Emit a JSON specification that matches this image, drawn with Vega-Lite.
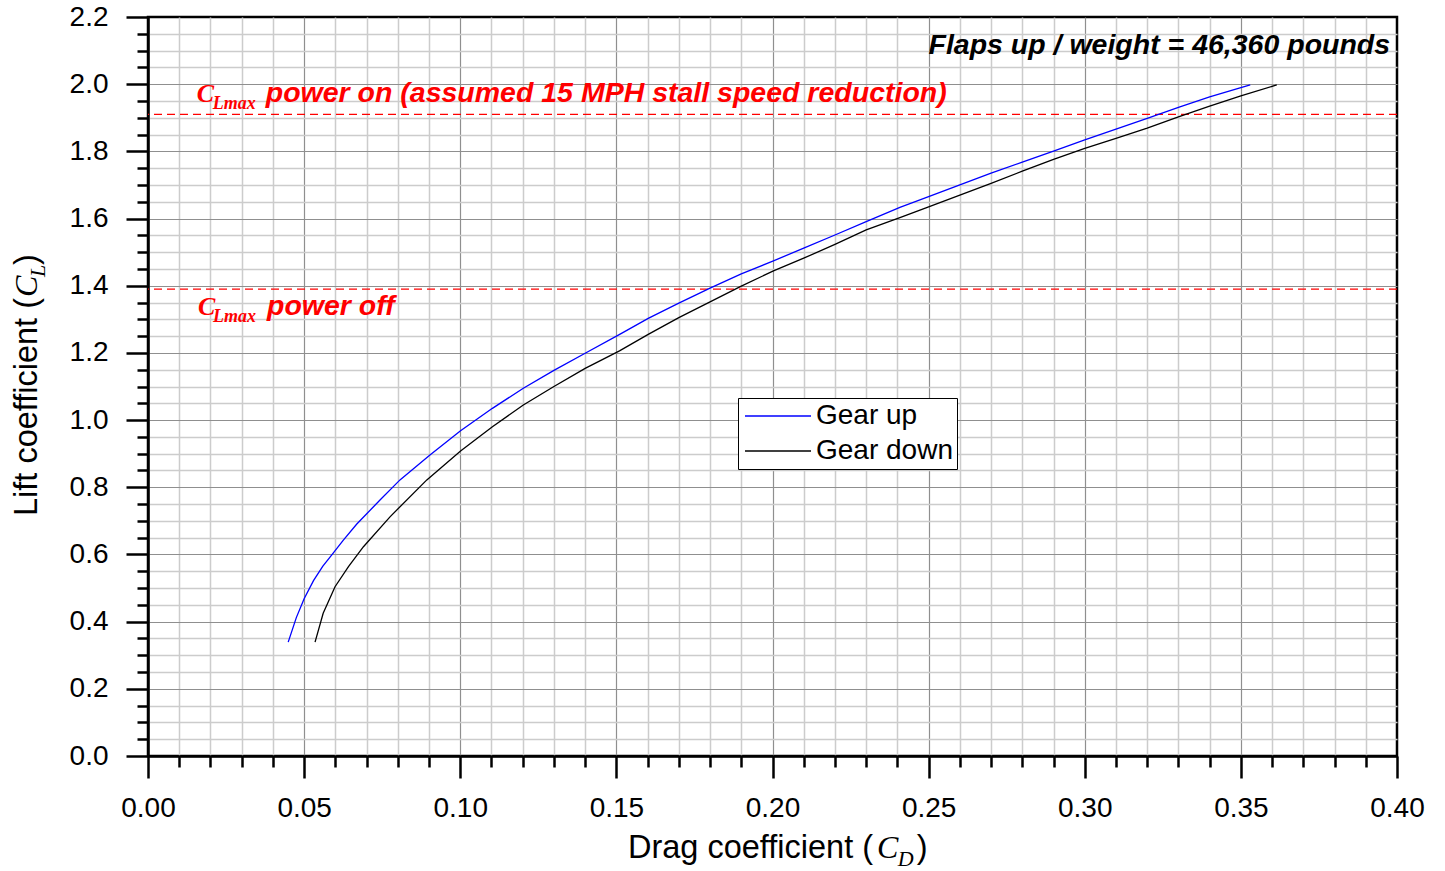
{
  "$schema": "https://vega.github.io/schema/vega-lite/v6.json",
  "width": 1249,
  "height": 739,
  "autosize": {"type": "none"},
  "padding": {"left": 148, "top": 17, "right": 48, "bottom": 115},
  "background": "white",
  "config": {"view": {"stroke": "black", "strokeWidth": 2.5}, "font": "Liberation Sans"},
  "resolve": {"axis": {"x": "independent", "y": "independent"}},
  "layer": [
    {
      "data": {"values": [{"name": "power on", "cl": 1.91}, {"name": "power off", "cl": 1.39}]},
      "mark": {"type": "rule", "color": "#ff0000", "strokeWidth": 1.2, "strokeDash": [8, 5]},
      "encoding": {
        "y": {"field": "cl", "type": "quantitative", "scale": {"domain": [0, 2.2], "nice": false, "zero": false}, "axis": null}
      }
    },
    {
      "data": {"values": [
        {"series": "Gear up", "cd": 0.0449, "cl": 0.339},
        {"series": "Gear up", "cd": 0.0475, "cl": 0.412},
        {"series": "Gear up", "cd": 0.0500, "cl": 0.468},
        {"series": "Gear up", "cd": 0.0530, "cl": 0.522},
        {"series": "Gear up", "cd": 0.0560, "cl": 0.565},
        {"series": "Gear up", "cd": 0.0588, "cl": 0.598},
        {"series": "Gear up", "cd": 0.0625, "cl": 0.642},
        {"series": "Gear up", "cd": 0.0668, "cl": 0.690},
        {"series": "Gear up", "cd": 0.0743, "cl": 0.762},
        {"series": "Gear up", "cd": 0.0807, "cl": 0.822},
        {"series": "Gear up", "cd": 0.0903, "cl": 0.896},
        {"series": "Gear up", "cd": 0.1001, "cl": 0.968},
        {"series": "Gear up", "cd": 0.1103, "cl": 1.035},
        {"series": "Gear up", "cd": 0.1202, "cl": 1.095},
        {"series": "Gear up", "cd": 0.1300, "cl": 1.148},
        {"series": "Gear up", "cd": 0.1400, "cl": 1.199},
        {"series": "Gear up", "cd": 0.1512, "cl": 1.256},
        {"series": "Gear up", "cd": 0.1602, "cl": 1.303},
        {"series": "Gear up", "cd": 0.1700, "cl": 1.348},
        {"series": "Gear up", "cd": 0.1800, "cl": 1.393},
        {"series": "Gear up", "cd": 0.1900, "cl": 1.435},
        {"series": "Gear up", "cd": 0.2003, "cl": 1.474},
        {"series": "Gear up", "cd": 0.2100, "cl": 1.512},
        {"series": "Gear up", "cd": 0.2200, "cl": 1.551},
        {"series": "Gear up", "cd": 0.2300, "cl": 1.591},
        {"series": "Gear up", "cd": 0.2408, "cl": 1.633},
        {"series": "Gear up", "cd": 0.2500, "cl": 1.665},
        {"series": "Gear up", "cd": 0.2600, "cl": 1.700},
        {"series": "Gear up", "cd": 0.2700, "cl": 1.735},
        {"series": "Gear up", "cd": 0.2800, "cl": 1.768},
        {"series": "Gear up", "cd": 0.2900, "cl": 1.801},
        {"series": "Gear up", "cd": 0.3000, "cl": 1.834},
        {"series": "Gear up", "cd": 0.3100, "cl": 1.866},
        {"series": "Gear up", "cd": 0.3200, "cl": 1.898},
        {"series": "Gear up", "cd": 0.3300, "cl": 1.931},
        {"series": "Gear up", "cd": 0.3400, "cl": 1.962},
        {"series": "Gear up", "cd": 0.3500, "cl": 1.990},
        {"series": "Gear up", "cd": 0.3530, "cl": 1.998},
        {"series": "Gear down", "cd": 0.0535, "cl": 0.339},
        {"series": "Gear down", "cd": 0.0561, "cl": 0.425},
        {"series": "Gear down", "cd": 0.0599, "cl": 0.504},
        {"series": "Gear down", "cd": 0.0642, "cl": 0.564},
        {"series": "Gear down", "cd": 0.0690, "cl": 0.623},
        {"series": "Gear down", "cd": 0.0775, "cl": 0.712},
        {"series": "Gear down", "cd": 0.0893, "cl": 0.822},
        {"series": "Gear down", "cd": 0.1001, "cl": 0.908},
        {"series": "Gear down", "cd": 0.1103, "cl": 0.980},
        {"series": "Gear down", "cd": 0.1202, "cl": 1.045},
        {"series": "Gear down", "cd": 0.1300, "cl": 1.100},
        {"series": "Gear down", "cd": 0.1400, "cl": 1.154},
        {"series": "Gear down", "cd": 0.1510, "cl": 1.206},
        {"series": "Gear down", "cd": 0.1602, "cl": 1.255},
        {"series": "Gear down", "cd": 0.1700, "cl": 1.305},
        {"series": "Gear down", "cd": 0.1800, "cl": 1.352},
        {"series": "Gear down", "cd": 0.1900, "cl": 1.399},
        {"series": "Gear down", "cd": 0.2003, "cl": 1.444},
        {"series": "Gear down", "cd": 0.2100, "cl": 1.482},
        {"series": "Gear down", "cd": 0.2200, "cl": 1.523},
        {"series": "Gear down", "cd": 0.2300, "cl": 1.566},
        {"series": "Gear down", "cd": 0.2408, "cl": 1.603},
        {"series": "Gear down", "cd": 0.2500, "cl": 1.635},
        {"series": "Gear down", "cd": 0.2600, "cl": 1.670},
        {"series": "Gear down", "cd": 0.2700, "cl": 1.705},
        {"series": "Gear down", "cd": 0.2800, "cl": 1.741},
        {"series": "Gear down", "cd": 0.2900, "cl": 1.776},
        {"series": "Gear down", "cd": 0.3000, "cl": 1.809},
        {"series": "Gear down", "cd": 0.3100, "cl": 1.839},
        {"series": "Gear down", "cd": 0.3200, "cl": 1.869},
        {"series": "Gear down", "cd": 0.3300, "cl": 1.903},
        {"series": "Gear down", "cd": 0.3400, "cl": 1.935},
        {"series": "Gear down", "cd": 0.3500, "cl": 1.965},
        {"series": "Gear down", "cd": 0.3615, "cl": 1.998}
      ]},
      "mark": {"type": "line", "strokeWidth": 1.3},
      "encoding": {
        "x": {"field": "cd", "type": "quantitative", "scale": {"domain": [0, 0.4], "nice": false, "zero": false},
          "axis": {"orient": "bottom", "values": [0.01,0.02,0.03,0.04,0.06,0.07,0.08,0.09,0.11,0.12,0.13,0.14,0.16,0.17,0.18,0.19,0.21,0.22,0.23,0.24,0.26,0.27,0.28,0.29,0.31,0.32,0.33,0.34,0.36,0.37,0.38,0.39],
            "grid": true, "gridColor": "#cccccc", "gridWidth": 1.5, "ticks": true, "tickSize": 11, "tickWidth": 2.5, "tickColor": "black", "labels": false, "domain": false, "title": null}},
        "y": {"field": "cl", "type": "quantitative", "scale": {"domain": [0, 2.2], "nice": false, "zero": false},
          "axis": {"orient": "left", "values": [0.05,0.1,0.15,0.25,0.3,0.35,0.45,0.5,0.55,0.65,0.7,0.75,0.85,0.9,0.95,1.05,1.1,1.15,1.25,1.3,1.35,1.45,1.5,1.55,1.65,1.7,1.75,1.85,1.9,1.95,2.05,2.1,2.15],
            "grid": true, "gridColor": "#cccccc", "gridWidth": 1.5, "ticks": true, "tickSize": 11, "tickWidth": 2.5, "tickColor": "black", "labels": false, "domain": false, "title": null}},
        "color": {"field": "series", "type": "nominal", "scale": {"domain": ["Gear up", "Gear down"], "range": ["#0000ff", "#000000"]},
          "legend": {"orient": "none", "legendX": 590, "legendY": 381, "title": null, "strokeColor": "black", "fillColor": "white", "padding": 4,
            "symbolType": "M-1,0H5", "symbolSize": 484, "symbolStrokeWidth": 1.5, "labelFontSize": 28, "labelFont": "Liberation Sans", "labelColor": "black", "labelOffset": 46, "rowPadding": 7, "labelLimit": 400}}
      }
    },
    {
      "data": {"values": [{"t": "C", "x": 0.0156, "y": 1.947}, {"t": "C", "x": 0.0160, "y": 1.313}]},
      "mark": {"type": "text", "font": "Liberation Serif", "fontSize": 26, "fontWeight": "bold", "fontStyle": "italic", "color": "#ff0000", "align": "left", "baseline": "alphabetic"},
      "encoding": {
        "x": {"field": "x", "type": "quantitative", "scale": {"domain": [0, 0.4], "nice": false, "zero": false},
          "axis": {"orient": "bottom", "values": [0.05,0.1,0.15,0.2,0.25,0.3,0.35], "grid": true, "gridColor": "#8f8f8f", "gridWidth": 1.2, "ticks": false, "labels": false, "domain": false, "title": null}},
        "y": {"field": "y", "type": "quantitative", "scale": {"domain": [0, 2.2], "nice": false, "zero": false},
          "axis": {"orient": "left", "values": [0.2,0.4,0.6,0.8,1.0,1.2,1.4,1.6,1.8,2.0], "grid": true, "gridColor": "#8f8f8f", "gridWidth": 1.2, "ticks": false, "labels": false, "domain": false, "title": null}},
        "text": {"field": "t"}
      }
    },
    {
      "data": {"values": [{"t": "Lmax", "x": 0.0207, "y": 1.926}, {"t": "Lmax", "x": 0.0208, "y": 1.292}]},
      "mark": {"type": "text", "font": "Liberation Serif", "fontSize": 18, "fontWeight": "bold", "fontStyle": "italic", "color": "#ff0000", "align": "left", "baseline": "alphabetic"},
      "encoding": {
        "x": {"field": "x", "type": "quantitative", "scale": {"domain": [0, 0.4], "nice": false, "zero": false},
          "axis": {"orient": "bottom", "values": [0,0.05,0.1,0.15,0.2,0.25,0.3,0.35,0.4], "format": ".2f", "grid": false, "ticks": true, "tickSize": 22, "tickWidth": 2.5, "tickColor": "black",
            "labels": true, "labelFont": "Liberation Sans", "labelFontSize": 28, "labelColor": "black", "labelPadding": 16, "labelFlush": false, "labelOverlap": false,
            "domain": true, "domainColor": "black", "domainWidth": 2.5, "title": null}},
        "y": {"field": "y", "type": "quantitative", "scale": {"domain": [0, 2.2], "nice": false, "zero": false},
          "axis": {"orient": "left", "values": [0,0.2,0.4,0.6,0.8,1.0,1.2,1.4,1.6,1.8,2.0,2.2], "format": ".1f", "grid": false, "ticks": true, "tickSize": 22, "tickWidth": 2.5, "tickColor": "black",
            "labels": true, "labelFont": "Liberation Sans", "labelFontSize": 28, "labelColor": "black", "labelPadding": 18, "labelFlush": false, "labelOverlap": false,
            "domain": true, "domainColor": "black", "domainWidth": 2.5, "title": null}},
        "text": {"field": "t"}
      }
    },
    {
      "data": {"values": [{"t": "power on (assumed 15 MPH stall speed reduction)", "x": 0.0377, "y": 1.947}, {"t": "power off", "x": 0.0381, "y": 1.313}]},
      "mark": {"type": "text", "font": "Liberation Sans", "fontSize": 28.5, "fontWeight": "bold", "fontStyle": "italic", "color": "#ff0000", "align": "left", "baseline": "alphabetic"},
      "encoding": {
        "x": {"field": "x", "type": "quantitative", "scale": {"domain": [0, 0.4], "nice": false, "zero": false}, "axis": null},
        "y": {"field": "y", "type": "quantitative", "scale": {"domain": [0, 2.2], "nice": false, "zero": false}, "axis": null},
        "text": {"field": "t"}
      }
    },
    {
      "data": {"values": [{"t": "Flaps up / weight = 46,360 pounds", "x": 0.3978, "y": 2.090}]},
      "mark": {"type": "text", "font": "Liberation Sans", "fontSize": 28.5, "fontWeight": "bold", "fontStyle": "italic", "color": "black", "align": "right", "baseline": "alphabetic"},
      "encoding": {
        "x": {"field": "x", "type": "quantitative", "scale": {"domain": [0, 0.4], "nice": false, "zero": false}, "axis": null},
        "y": {"field": "y", "type": "quantitative", "scale": {"domain": [0, 2.2], "nice": false, "zero": false}, "axis": null},
        "text": {"field": "t"}
      }
    },
    {
      "data": {"values": [{"t": "Drag coefficient (", "x": 0.2322, "y": -0.304}]},
      "mark": {"type": "text", "font": "Liberation Sans", "fontSize": 32.5, "color": "black", "align": "right", "baseline": "alphabetic"},
      "encoding": {
        "x": {"field": "x", "type": "quantitative", "scale": {"domain": [0, 0.4], "nice": false, "zero": false}, "axis": null},
        "y": {"field": "y", "type": "quantitative", "scale": {"domain": [0, 2.2], "nice": false, "zero": false}, "axis": null},
        "text": {"field": "t"}
      }
    },
    {
      "data": {"values": [{"t": "C", "x": 0.2335, "y": -0.304}]},
      "mark": {"type": "text", "font": "Liberation Serif", "fontSize": 32, "fontStyle": "italic", "color": "black", "align": "left", "baseline": "alphabetic"},
      "encoding": {
        "x": {"field": "x", "type": "quantitative", "scale": {"domain": [0, 0.4], "nice": false, "zero": false}, "axis": null},
        "y": {"field": "y", "type": "quantitative", "scale": {"domain": [0, 2.2], "nice": false, "zero": false}, "axis": null},
        "text": {"field": "t"}
      }
    },
    {
      "data": {"values": [{"t": "D", "x": 0.2401, "y": -0.3275}]},
      "mark": {"type": "text", "font": "Liberation Serif", "fontSize": 22, "fontStyle": "italic", "color": "black", "align": "left", "baseline": "alphabetic"},
      "encoding": {
        "x": {"field": "x", "type": "quantitative", "scale": {"domain": [0, 0.4], "nice": false, "zero": false}, "axis": null},
        "y": {"field": "y", "type": "quantitative", "scale": {"domain": [0, 2.2], "nice": false, "zero": false}, "axis": null},
        "text": {"field": "t"}
      }
    },
    {
      "data": {"values": [{"t": ")", "x": 0.2462, "y": -0.304}]},
      "mark": {"type": "text", "font": "Liberation Sans", "fontSize": 32.5, "color": "black", "align": "left", "baseline": "alphabetic"},
      "encoding": {
        "x": {"field": "x", "type": "quantitative", "scale": {"domain": [0, 0.4], "nice": false, "zero": false}, "axis": null},
        "y": {"field": "y", "type": "quantitative", "scale": {"domain": [0, 2.2], "nice": false, "zero": false}, "axis": null},
        "text": {"field": "t"}
      }
    },
    {
      "data": {"values": [{"t": "Lift coefficient (", "x": -0.03555, "y": 1.3635}]},
      "mark": {"type": "text", "font": "Liberation Sans", "fontSize": 32.5, "color": "black", "align": "right", "baseline": "alphabetic", "angle": 270},
      "encoding": {
        "x": {"field": "x", "type": "quantitative", "scale": {"domain": [0, 0.4], "nice": false, "zero": false}, "axis": null},
        "y": {"field": "y", "type": "quantitative", "scale": {"domain": [0, 2.2], "nice": false, "zero": false}, "axis": null},
        "text": {"field": "t"}
      }
    },
    {
      "data": {"values": [{"t": "C", "x": -0.03555, "y": 1.3665}]},
      "mark": {"type": "text", "font": "Liberation Serif", "fontSize": 32, "fontStyle": "italic", "color": "black", "align": "left", "baseline": "alphabetic", "angle": 270},
      "encoding": {
        "x": {"field": "x", "type": "quantitative", "scale": {"domain": [0, 0.4], "nice": false, "zero": false}, "axis": null},
        "y": {"field": "y", "type": "quantitative", "scale": {"domain": [0, 2.2], "nice": false, "zero": false}, "axis": null},
        "text": {"field": "t"}
      }
    },
    {
      "data": {"values": [{"t": "L", "x": -0.0330, "y": 1.426}]},
      "mark": {"type": "text", "font": "Liberation Serif", "fontSize": 22, "fontStyle": "italic", "color": "black", "align": "left", "baseline": "alphabetic", "angle": 270},
      "encoding": {
        "x": {"field": "x", "type": "quantitative", "scale": {"domain": [0, 0.4], "nice": false, "zero": false}, "axis": null},
        "y": {"field": "y", "type": "quantitative", "scale": {"domain": [0, 2.2], "nice": false, "zero": false}, "axis": null},
        "text": {"field": "t"}
      }
    },
    {
      "data": {"values": [{"t": ")", "x": -0.03555, "y": 1.462}]},
      "mark": {"type": "text", "font": "Liberation Sans", "fontSize": 32.5, "color": "black", "align": "left", "baseline": "alphabetic", "angle": 270},
      "encoding": {
        "x": {"field": "x", "type": "quantitative", "scale": {"domain": [0, 0.4], "nice": false, "zero": false}, "axis": null},
        "y": {"field": "y", "type": "quantitative", "scale": {"domain": [0, 2.2], "nice": false, "zero": false}, "axis": null},
        "text": {"field": "t"}
      }
    }
  ]
}
